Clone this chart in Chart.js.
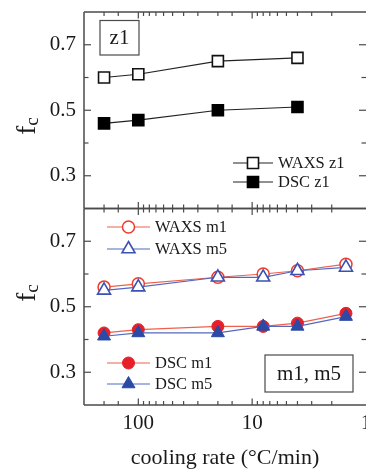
<!DOCTYPE html>
<html>
<head>
<meta charset="utf-8">
<script src="https://cdn.jsdelivr.net/npm/chart.js@4"></script>
<style>
  html, body { margin: 0; padding: 0; background: #fff; }
  #wrap { width: 366px; height: 472px; position: relative; }
</style>
</head>
<body>
<div id="wrap"><canvas id="c" width="366" height="472"></canvas></div>
<script>
// ---- data ----
const ratesTop = [200, 100, 20, 4];
const waxsZ1 = [0.60, 0.61, 0.65, 0.66];
const dscZ1 = [0.46, 0.47, 0.50, 0.51];

const ratesBottom = [200, 100, 20, 8, 4, 1.5];
const waxsM1 = [0.56, 0.57, 0.59, 0.60, 0.61, 0.63];
const waxsM5 = [0.55, 0.56, 0.59, 0.59, 0.61, 0.62];
const dscM1 = [0.42, 0.43, 0.44, 0.44, 0.45, 0.48];
const dscM5 = [0.41, 0.42, 0.42, 0.44, 0.44, 0.47];

const yTickValues = [0.2, 0.3, 0.4, 0.5, 0.6, 0.7, 0.8];
const yTickLabels = [0.3, 0.5, 0.7];
const xTickLabels = [100, 10, 1];
const xTitle = 'cooling rate (°C/min)';
const panelLabels = ['z1', 'm1, m5'];

// ---- styles ----
const SERIF = '"Liberation Serif", "Times New Roman", serif';
const RED = '#ee3b2c', RED_LINE = '#f0604c', RED_FILL = '#e5202a';
const BLUE = '#3b52b4', BLUE_LINE = '#5568c0', BLUE_FILL = '#2b4aa6';
const FRAME = '#4a4a4a';

const pts = (xs, ys) => xs.map((x, i) => ({ x: x, y: ys[i] }));
const near = (v, arr) => arr.some(a => Math.abs(a - v) < 1e-6 * Math.max(1, Math.abs(a)));

const datasets = [
  { label: 'WAXS z1', data: pts(ratesTop, waxsZ1), yAxisID: 'yTop',
    borderColor: '#222', borderWidth: 1.2, pointStyle: 'rect', pointRadius: 7.8,
    pointBackgroundColor: '#fff', pointBorderColor: '#111', pointBorderWidth: 1.6, order: 0 },
  { label: 'DSC z1', data: pts(ratesTop, dscZ1), yAxisID: 'yTop',
    borderColor: '#222', borderWidth: 1.2, pointStyle: 'rect', pointRadius: 7.8,
    pointBackgroundColor: '#000', pointBorderColor: '#000', pointBorderWidth: 1.6, order: 0 },
  { label: 'WAXS m1', data: pts(ratesBottom, waxsM1), yAxisID: 'yBot',
    borderColor: RED_LINE, borderWidth: 1.2, pointStyle: 'circle', pointRadius: 6,
    pointBackgroundColor: '#fff', pointBorderColor: RED, pointBorderWidth: 1.5, order: 2 },
  { label: 'WAXS m5', data: pts(ratesBottom, waxsM5), yAxisID: 'yBot',
    borderColor: BLUE_LINE, borderWidth: 1.2, pointStyle: 'triangle', pointRadius: 7.5,
    pointBackgroundColor: '#fff', pointBorderColor: BLUE, pointBorderWidth: 1.6, order: 1 },
  { label: 'DSC m1', data: pts(ratesBottom, dscM1), yAxisID: 'yBot',
    borderColor: RED_LINE, borderWidth: 1.2, pointStyle: 'circle', pointRadius: 6,
    pointBackgroundColor: RED_FILL, pointBorderColor: RED_FILL, pointBorderWidth: 1, order: 2 },
  { label: 'DSC m5', data: pts(ratesBottom, dscM5), yAxisID: 'yBot',
    borderColor: BLUE_LINE, borderWidth: 1.2, pointStyle: 'triangle', pointRadius: 7.5,
    pointBackgroundColor: BLUE_FILL, pointBorderColor: BLUE_FILL, pointBorderWidth: 1, order: 1 }
];

function yScale(weight) {
  return {
    type: 'linear', position: 'left', stack: 'panels', stackWeight: 1, weight: weight,
    min: 0.2, max: 0.8, offset: false,
    grid: { display: false, drawTicks: false },
    border: { display: false },
    ticks: {
      autoSkip: false, padding: 8, color: '#1a1a1a',
      font: { family: SERIF, size: 21 },
      callback: v => near(v, yTickLabels) ? Number(v).toFixed(1) : ''
    },
    afterBuildTicks: s => { s.ticks = yTickValues.map(v => ({ value: v })); },
    afterFit: s => { s.width = 84; s.paddingTop = 0; s.paddingBottom = 0; }
  };
}

function drawMarker(ctx, style, x, y, r, fill, stroke, bw) {
  ctx.save();
  ctx.beginPath();
  if (style === 'rect') {
    const h = r * Math.SQRT1_2;
    ctx.rect(x - h, y - h, 2 * h, 2 * h);
  } else if (style === 'circle') {
    ctx.arc(x, y, r, 0, Math.PI * 2);
  } else if (style === 'triangle') {
    let a = 0;
    ctx.moveTo(x + Math.sin(a) * r, y - Math.cos(a) * r);
    a += 2 * Math.PI / 3;
    ctx.lineTo(x + Math.sin(a) * r, y - Math.cos(a) * r);
    a += 2 * Math.PI / 3;
    ctx.lineTo(x + Math.sin(a) * r, y - Math.cos(a) * r);
    ctx.closePath();
  }
  ctx.fillStyle = fill; ctx.fill();
  ctx.lineWidth = bw; ctx.strokeStyle = stroke; ctx.stroke();
  ctx.restore();
}

const legendEntries = [
  { ds: 0, x1: 233, x2: 273, y: 163 },
  { ds: 1, x1: 233, x2: 273, y: 182 },
  { ds: 2, x1: 107, x2: 150, y: 227 },
  { ds: 3, x1: 107, x2: 150, y: 249 },
  { ds: 4, x1: 107, x2: 150, y: 363 },
  { ds: 5, x1: 107, x2: 150, y: 384 }
];

const decorations = {
  id: 'decorations',
  afterDraw(chart) {
    const ctx = chart.ctx, ca = chart.chartArea, xs = chart.scales.x;
    const line = (x1, y1, x2, y2) => { ctx.beginPath(); ctx.moveTo(x1, y1); ctx.lineTo(x2, y2); ctx.stroke(); };
    ['yTop', 'yBot'].forEach((id, k) => {
      const s = chart.scales[id];
      ctx.save();
      ctx.strokeStyle = FRAME; ctx.lineWidth = 1.5;
      line(ca.left, s.top, ca.right + 1, s.top);
      line(ca.left, s.bottom, ca.right + 1, s.bottom);
      line(ca.left, s.top, ca.left, s.bottom);
      line(ca.right + 0.8, s.top, ca.right + 0.8, s.bottom);
      ctx.lineWidth = 1.2;
      xs.ticks.forEach(t => {
        const px = xs.getPixelForValue(t.value);
        if (px < ca.left + 2 || px > ca.right - 2) return;
        const len = near(t.value, xTickLabels) ? 6.5 : 4;
        line(px, s.top, px, s.top + len);
        line(px, s.bottom, px, s.bottom - len);
      });
      s.ticks.forEach(t => {
        const py = s.getPixelForValue(t.value);
        if (py < s.top + 2 || py > s.bottom - 2) return;
        const len = near(t.value, yTickLabels) ? 7 : 4.5;
        line(ca.left, py, ca.left + len, py);
        line(ca.right, py, ca.right - len, py);
      });
      // y title f_c
      const cy = k === 0 ? 126 : 293;
      ctx.translate(35, cy);
      ctx.rotate(-Math.PI / 2);
      ctx.fillStyle = '#1a1a1a';
      ctx.textBaseline = 'alphabetic';
      ctx.font = '27px ' + SERIF;
      const wf = ctx.measureText('f').width;
      ctx.font = '19px ' + SERIF;
      const wc = ctx.measureText('c').width;
      const x0 = -(wf + wc) / 2;
      ctx.font = '27px ' + SERIF;
      ctx.fillText('f', x0, 0);
      ctx.font = '19px ' + SERIF;
      ctx.fillText('c', x0 + wf, 3);
      ctx.restore();
    });

    // panel label boxes
    ctx.save();
    ctx.strokeStyle = FRAME; ctx.lineWidth = 1.2;
    ctx.fillStyle = '#1a1a1a';
    ctx.font = '21px ' + SERIF;
    ctx.textAlign = 'center'; ctx.textBaseline = 'middle';
    ctx.strokeRect(100, 20.5, 39, 34.5);
    ctx.fillText(panelLabels[0], 119.5, 38.5);
    ctx.strokeRect(265, 355, 88, 37);
    ctx.fillText(panelLabels[1], 309, 374.5);
    ctx.restore();

    // legends
    ctx.save();
    legendEntries.forEach(e => {
      const d = chart.data.datasets[e.ds];
      ctx.strokeStyle = d.borderColor; ctx.lineWidth = d.borderWidth;
      line(e.x1, e.y, e.x2, e.y);
      drawMarker(ctx, d.pointStyle, (e.x1 + e.x2) / 2, e.y, d.pointRadius,
        d.pointBackgroundColor, d.pointBorderColor, d.pointBorderWidth);
      ctx.fillStyle = '#1a1a1a';
      ctx.font = '16.5px ' + SERIF;
      ctx.textAlign = 'left'; ctx.textBaseline = 'middle';
      ctx.fillText(d.label, e.x2 + 5, e.y + 0.5);
    });
    ctx.restore();
  }
};

new Chart(document.getElementById('c'), {
  type: 'line',
  data: { datasets: datasets },
  options: {
    responsive: false, animation: false,
    layout: { autoPadding: false, padding: { top: 12, left: 0, right: 0, bottom: 0 } },
    plugins: { legend: { display: false }, tooltip: { enabled: false } },
    scales: {
      x: {
        type: 'logarithmic', position: 'bottom', reverse: true, min: 1, max: 300,
        grid: { display: false, drawTicks: false },
        border: { display: false },
        ticks: {
          autoSkip: false, maxRotation: 0, minRotation: 0, padding: 6, color: '#1a1a1a',
          font: { family: SERIF, size: 21 },
          callback: v => near(v, xTickLabels) ? String(v) : ''
        },
        title: { display: true, text: xTitle, color: '#1a1a1a',
          font: { family: SERIF, size: 22 }, padding: { top: 0, bottom: 1 } },
        afterFit: s => { s.height = 67; s.paddingLeft = 0; s.paddingRight = 0; }
      },
      yBot: yScale(0),
      yTop: yScale(1)
    }
  },
  plugins: [decorations]
});
</script>
</body>
</html>
